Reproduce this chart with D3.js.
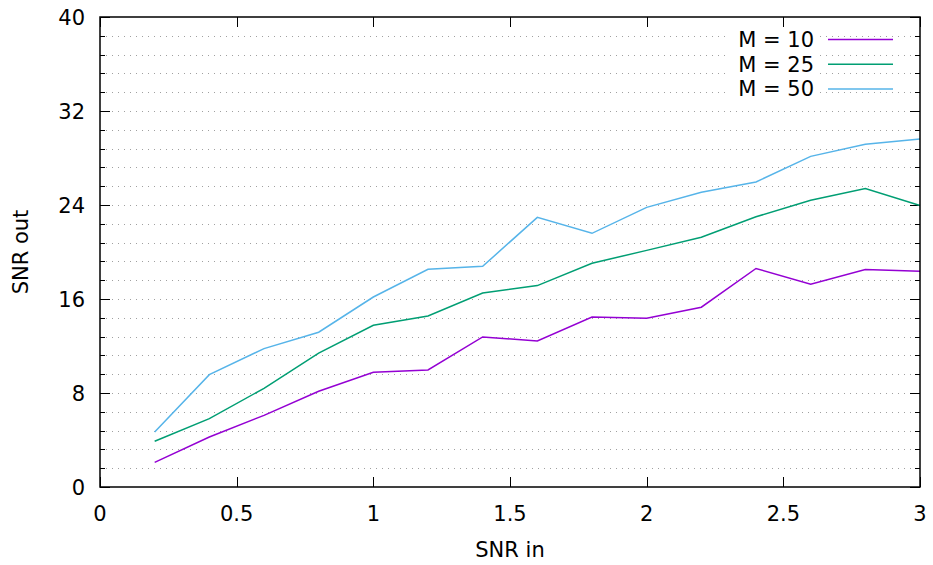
<!DOCTYPE html>
<html><head><meta charset="utf-8">
<script src="https://cdn.jsdelivr.net/npm/d3@7"></script>
<style>body{margin:0;background:#fff}svg{display:block}text{font-family:"DejaVu Sans",sans-serif;fill:#000}</style>
</head><body><svg id="c" width="933" height="565"></svg>
<script>
const xs = [0.2,0.4,0.6,0.8,1.0,1.2,1.4,1.6,1.8,2.0,2.2,2.4,2.6,2.8,3.0];
const m10 = [2.1,4.25,6.1,8.15,9.76,9.96,12.77,12.43,14.47,14.36,15.3,18.6,17.25,18.5,18.36];
const m25 = [3.89,5.82,8.4,11.4,13.76,14.55,16.51,17.14,19.04,20.14,21.25,23.0,24.4,25.4,23.95];
const m50 = [4.68,9.56,11.78,13.17,16.17,18.53,18.78,22.95,21.59,23.8,25.08,25.96,28.14,29.17,29.62];
const seriesNames = ["M = 10","M = 25","M = 50"];
const xTicks = [0,0.5,1,1.5,2,2.5,3];
const yTicks = [0,8,16,24,32,40];

const L=100,R=920,T=17,B=487;
const FS=21;
const svg=d3.select("#c");
const x=d3.scaleLinear().domain([0,3]).range([L,R]);
const y=d3.scaleLinear().domain([0,40]).range([B,T]);
const minorY=d3.range(0,40.001,1.6).filter(v=>Math.abs(v%8)>0.01 && Math.abs(v%8-8)>0.01);

// grid
svg.append("g").selectAll("line").data(d3.range(1,25).map(i=>i*1.6).filter(v=>v<39.9)).join("line")
 .attr("x1",L).attr("x2",R).attr("y1",d=>Math.round(y(d))+0.5).attr("y2",d=>Math.round(y(d))+0.5)
 .attr("stroke","#a0a0a0").attr("stroke-width",1).attr("stroke-dasharray","1,5");

// ticks
const tk=svg.append("g").attr("stroke","#000").attr("stroke-width",1);
yTicks.forEach(v=>{const yy=Math.round(y(v))+0.5;
 tk.append("line").attr("x1",L).attr("x2",L+10).attr("y1",yy).attr("y2",yy);
 tk.append("line").attr("x1",R).attr("x2",R-10).attr("y1",yy).attr("y2",yy);});
minorY.forEach(v=>{const yy=Math.round(y(v))+0.5;
 tk.append("line").attr("x1",L).attr("x2",L+5).attr("y1",yy).attr("y2",yy);
 tk.append("line").attr("x1",R).attr("x2",R-5).attr("y1",yy).attr("y2",yy);});
xTicks.forEach(v=>{const xx=Math.round(x(v))+0.5;
 tk.append("line").attr("x1",xx).attr("x2",xx).attr("y1",B).attr("y2",B-10);
 tk.append("line").attr("x1",xx).attr("x2",xx).attr("y1",T).attr("y2",T+10);});

// labels
svg.append("g").selectAll("text").data(yTicks).join("text")
 .attr("x",L-15).attr("y",d=>y(d)).attr("dy","0.36em").attr("text-anchor","end")
 .attr("font-size",FS).text(d=>d);
svg.append("g").selectAll("text").data(xTicks).join("text")
 .attr("x",d=>x(d)).attr("y",B+26).attr("dy","0.36em").attr("text-anchor","middle")
 .attr("font-size",FS).text(d=>d);
svg.append("text").attr("x",(L+R)/2).attr("y",549).attr("dy","0.36em").attr("text-anchor","middle").attr("font-size",FS).text("SNR in");
svg.append("text").attr("transform","translate(20,252) rotate(-90)").attr("dy","0.36em").attr("text-anchor","middle").attr("font-size",FS).text("SNR out");

// lines
const colors=["#9400d3","#009e73","#56b4e9"];
const data=[m10,m25,m50];
const line=d3.line().x((d,i)=>x(xs[i])).y(d=>y(d));
data.forEach((s,k)=>{
 svg.append("path").attr("d",line(s)).attr("fill","none").attr("stroke",colors[k]).attr("stroke-width",1.5);
});

// legend
const lg=svg.append("g");
seriesNames.forEach((n,k)=>{
 const yy=39.5+k*24.7;
 lg.append("rect").attr("x",728).attr("y",yy-11).attr("width",92).attr("height",22).attr("fill","#fff");
 lg.append("text").attr("x",814).attr("y",yy).attr("dy","0.36em").attr("text-anchor","end").attr("font-size",FS).text(n);
 lg.append("line").attr("x1",828).attr("x2",893).attr("y1",yy).attr("y2",yy).attr("stroke",colors[k]).attr("stroke-width",1.5);
});

// frame
svg.append("rect").attr("x",L).attr("y",T).attr("width",R-L).attr("height",B-T).attr("fill","none").attr("stroke","#000").attr("stroke-width",1.5);
</script></body></html>
